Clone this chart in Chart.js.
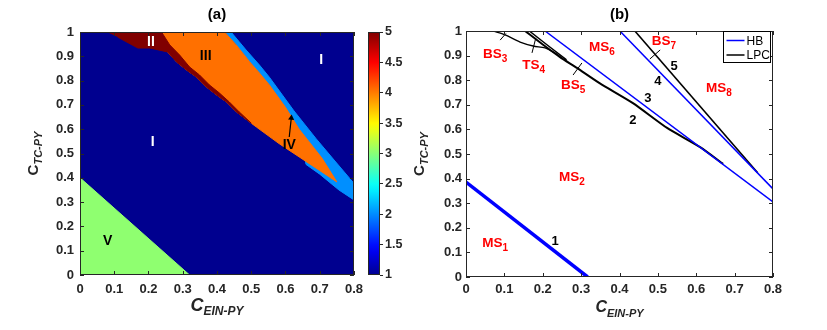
<!DOCTYPE html>
<html lang="en">
<head>
<meta charset="UTF-8">
<title>Regions (a) and bifurcation curves (b)</title>
<script src="https://cdn.jsdelivr.net/npm/chart.js@4"></script>
<style>
  body { margin: 0; background: #fff; width: 827px; height: 330px; overflow: hidden; position: relative; }
  canvas { position: absolute; top: 0; }
  #chartA { left: 0; }
  #chartCb { left: 360px; }
  #chartB { left: 400px; }
</style>
</head>
<body>
<canvas id="chartA" width="370" height="330"></canvas>
<canvas id="chartCb" width="50" height="330"></canvas>
<canvas id="chartB" width="427" height="330"></canvas>
<script>
// axis ticks
const xTicks = [0, 0.1, 0.2, 0.3, 0.4, 0.5, 0.6, 0.7, 0.8];
const yTicks = [0, 0.1, 0.2, 0.3, 0.4, 0.5, 0.6, 0.7, 0.8, 0.9, 1];
const cbTicks = [1, 1.5, 2, 2.5, 3, 3.5, 4, 4.5, 5];

// panel (a): region outlines, points are [C_EIN-PY, C_TC-PY]
const regionI = [[0, 0], [0.8, 0], [0.8, 1], [0, 1]];
const regionII = [[0.078, 1], [0.238, 1], [0.262, 0.947], [0.291, 0.905], [0.32, 0.856], [0.349, 0.823], [0.378, 0.782],
  [0.407, 0.749], [0.436, 0.712], [0.465, 0.671], [0.5, 0.625], [0.457, 0.671], [0.428, 0.712], [0.399, 0.741], [0.369, 0.774],
  [0.34, 0.815], [0.311, 0.844], [0.282, 0.877], [0.256, 0.918], [0.204, 0.934], [0.169, 0.934], [0.11, 0.979]];
const regionIII = [[0.238, 1], [0.422, 1], [0.456, 0.947], [0.495, 0.878], [0.524, 0.831], [0.553, 0.782], [0.6, 0.69], [0.64, 0.6],
  [0.707, 0.48], [0.75, 0.383], [0.70, 0.43], [0.64, 0.486], [0.582, 0.54], [0.515, 0.609], [0.5, 0.625], [0.457, 0.671],
  [0.428, 0.712], [0.399, 0.741], [0.369, 0.774], [0.34, 0.815], [0.311, 0.844], [0.282, 0.877], [0.256, 0.918]];
const regionIV = [[0.422, 1], [0.441, 1], [0.485, 0.926], [0.524, 0.864], [0.553, 0.814], [0.625, 0.675], [0.69, 0.56], [0.742, 0.473],
  [0.8, 0.377], [0.8, 0.309], [0.756, 0.35], [0.70, 0.415], [0.66, 0.455], [0.64, 0.6], [0.553, 0.782], [0.495, 0.878], [0.456, 0.947]];
const regionV = [[0, 0], [0, 0.4], [0.32, 0]];
// colour index of each region (colorbar 1..5)
const regionValue = { I: 1, II: 5, III: 4, IV: 2, V: 3 };
const arrowIV = [[0.611, 0.568], [0.617, 0.646]];

// panel (b): bifurcation curves
const hb1 = [[0, 0.386], [0.317, 0]];
const hb3 = [[0.206, 1], [0.8, 0.305]];
const hb4 = [[0.401, 1], [0.8, 0.358]];
const lpc2 = [[0.154, 1], [0.2, 0.945], [0.245, 0.894], [0.289, 0.85], [0.349, 0.787], [0.435, 0.707], [0.524, 0.606], [0.61, 0.528], [0.67, 0.46]];
const lpc5 = [[0.44, 1], [0.76, 0.424]];
const bs3 = [[0.07, 1], [0.102, 0.984], [0.141, 0.955], [0.175, 0.939], [0.206, 0.931], [0.227, 0.915], [0.25, 0.89]];
const ts4 = [[0.165, 1], [0.21, 0.945], [0.262, 0.883]];
const ptrBS3 = [[0.089, 0.963], [0.104, 0.99]];
const ptrTS4 = [[0.172, 0.911], [0.182, 0.972]];
const ptrBS5 = [[0.279, 0.821], [0.302, 0.870]];
const ptrBS7 = [[0.479, 0.886], [0.506, 0.923]];
const legendNames = ['HB', 'LPC'];

// text annotations
const labelsA = [
  { x: 0.212, y: 0.547, t: 'I', c: '#ffffff' },
  { x: 0.704, y: 0.885, t: 'I', c: '#ffffff' },
  { x: 0.207, y: 0.959, t: 'II', c: '#ffffff' },
  { x: 0.367, y: 0.901, t: 'III', c: '#000000' },
  { x: 0.611, y: 0.535, t: 'IV', c: '#000000' },
  { x: 0.081, y: 0.14, t: 'V', c: '#000000' }
];
const labelsB = [
  { x: 0.076, y: 0.907, t: 'BS', s: '3' },
  { x: 0.176, y: 0.862, t: 'TS', s: '4' },
  { x: 0.279, y: 0.78, t: 'BS', s: '5' },
  { x: 0.354, y: 0.935, t: 'MS', s: '6' },
  { x: 0.516, y: 0.96, t: 'BS', s: '7' },
  { x: 0.659, y: 0.768, t: 'MS', s: '8' },
  { x: 0.276, y: 0.406, t: 'MS', s: '2' },
  { x: 0.076, y: 0.138, t: 'MS', s: '1' }
];
const curveNumbers = [
  { x: 0.232, y: 0.146, t: '1' },
  { x: 0.435, y: 0.638, t: '2' },
  { x: 0.474, y: 0.724, t: '3' },
  { x: 0.5, y: 0.797, t: '4' },
  { x: 0.542, y: 0.854, t: '5' }
];

const FONT = '"Liberation Sans", Arial, sans-serif';
const TICK_COLOR = '#262626';

function pts(arr) { return arr.map(p => ({ x: p[0], y: p[1] })); }

// 64-step jet colormap as in MATLAB, t in [0,1]
function jetS(s) {
  const c = v => Math.round(255 * Math.max(0, Math.min(1, v)));
  return 'rgb(' + c(1.5 - Math.abs(4 * s - 3)) + ',' + c(1.5 - Math.abs(4 * s - 2)) + ',' + c(1.5 - Math.abs(4 * s - 1)) + ')';
}
function jet(t) { return jetS((Math.min(63, Math.floor(t * 64)) + 1) / 64); }
function regionColor(name) { return jet((regionValue[name] - 1) / 4); }

function drawText(ctx, x, y, main, sub, o) {
  ctx.save();
  ctx.translate(x, y);
  if (o.rotate) ctx.rotate(-Math.PI / 2);
  ctx.fillStyle = o.color;
  ctx.textBaseline = 'middle';
  ctx.textAlign = 'left';
  ctx.font = o.mainFont;
  const wm = ctx.measureText(main).width;
  let ws = 0;
  if (sub) { ctx.font = o.subFont; ws = ctx.measureText(sub).width; }
  const x0 = -(wm + ws) / 2;
  ctx.font = o.mainFont;
  ctx.fillText(main, x0, 0);
  if (sub) { ctx.font = o.subFont; ctx.fillText(sub, x0 + wm, o.subDy); }
  ctx.restore();
}

// box round the plot and inward ticks on all four sides
const framePlugin = {
  id: 'frame',
  afterDatasetsDraw(chart) {
    const { ctx, chartArea: a, scales } = chart;
    const L = 4;
    ctx.save();
    ctx.strokeStyle = TICK_COLOR;
    ctx.lineWidth = 1;
    ctx.beginPath();
    scales.x.ticks.forEach(t => {
      const px = Math.round(scales.x.getPixelForValue(t.value)) + 0.5;
      ctx.moveTo(px, a.bottom); ctx.lineTo(px, a.bottom - L);
      ctx.moveTo(px, a.top); ctx.lineTo(px, a.top + L);
    });
    scales.y.ticks.forEach(t => {
      const py = Math.round(scales.y.getPixelForValue(t.value)) + 0.5;
      ctx.moveTo(a.left, py); ctx.lineTo(a.left + L, py);
      ctx.moveTo(a.right, py); ctx.lineTo(a.right - L, py);
    });
    ctx.stroke();
    ctx.strokeRect(Math.round(a.left) + 0.5, Math.round(a.top) + 0.5, Math.round(a.width) - 1, Math.round(a.height) - 1);
    ctx.restore();
  }
};

function titlesPlugin(panel, xSize, ySize) {
  return {
    id: 'titles' + panel,
    afterDraw(chart) {
      const { ctx, chartArea: a } = chart;
      const cx = (a.left + a.right) / 2, cy = (a.top + a.bottom) / 2;
      drawText(ctx, cx, 15, '(' + panel + ')', '', { color: '#000', mainFont: 'bold 15px ' + FONT });
      drawText(ctx, cx, a.bottom + 31, 'C', 'EIN-PY', {
        color: TICK_COLOR, mainFont: 'bold italic ' + xSize[0] + 'px ' + FONT, subFont: 'bold italic ' + xSize[1] + 'px ' + FONT, subDy: 6
      });
      drawText(ctx, a.left - 46, cy, 'C', 'TC-PY', {
        rotate: true, color: TICK_COLOR, mainFont: 'bold ' + ySize[0] + 'px ' + FONT, subFont: 'bold italic ' + ySize[1] + 'px ' + FONT, subDy: 5
      });
    }
  };
}

function axes(yWidth, xHeight, xPad, yPad) {
  const tickFont = { family: FONT, size: 13, weight: 'bold' };
  const fmt = v => String(+(+v).toFixed(2));
  return {
    x: {
      type: 'linear', min: 0, max: 0.8,
      afterBuildTicks: s => { s.ticks = xTicks.map(v => ({ value: v })); },
      afterFit: s => { s.height = xHeight; },
      grid: { display: false, drawTicks: false },
      border: { display: false },
      ticks: { padding: xPad, font: tickFont, color: TICK_COLOR, maxRotation: 0, callback: fmt }
    },
    y: {
      type: 'linear', min: 0, max: 1,
      afterBuildTicks: s => { s.ticks = yTicks.map(v => ({ value: v })); },
      afterFit: s => { s.width = yWidth; },
      grid: { display: false, drawTicks: false },
      border: { display: false },
      ticks: { padding: yPad, font: tickFont, color: TICK_COLOR, callback: fmt }
    }
  };
}

function polygon(label, arr) {
  const col = regionColor(label);
  return { label: label, data: pts(arr), showLine: true, fill: 'shape', backgroundColor: col, borderColor: col, borderWidth: 1, pointRadius: 0 };
}
function curve(label, arr, color, width, tension) {
  return { label: label, data: pts(arr), showLine: true, fill: false, borderColor: color, borderWidth: width, pointRadius: 0, tension: tension || 0 };
}

// ---------- panel (a) ----------
const labelsPluginA = {
  id: 'labelsA',
  afterDatasetsDraw(chart) {
    const { ctx, scales: { x, y } } = chart;
    labelsA.forEach(l => drawText(ctx, x.getPixelForValue(l.x), y.getPixelForValue(l.y), l.t, '', { color: l.c, mainFont: 'bold 14px ' + FONT }));
  }
};

new Chart(document.getElementById('chartA'), {
  type: 'scatter',
  data: {
    datasets: [
      curve('arrow', arrowIV, '#000', 1.2),
      { label: 'arrowhead', data: pts(arrowIV.slice(1)), showLine: false, pointStyle: 'triangle', pointRadius: 3.5, pointRotation: 6, backgroundColor: '#000', borderColor: '#000', borderWidth: 0 },
      polygon('II', regionII),
      polygon('III', regionIII),
      polygon('IV', regionIV),
      polygon('V', regionV),
      polygon('I', regionI)
    ]
  },
  options: {
    responsive: false, animation: false,
    layout: { padding: { left: 0, right: 15, top: 32, bottom: 0 } },
    plugins: { legend: { display: false }, tooltip: { enabled: false } },
    scales: axes(80, 55, 7, 6)
  },
  plugins: [framePlugin, labelsPluginA, titlesPlugin('a', [18, 12], [15, 11])]
});

// ---------- colorbar ----------
const colorbarPlugin = {
  id: 'colorbar',
  beforeDatasetsDraw(chart) {
    const { ctx, chartArea: a } = chart;
    const g = ctx.createLinearGradient(0, a.bottom, 0, a.top);
    for (let i = 0; i <= 32; i++) g.addColorStop(i / 32, jetS((i / 32 * 63 + 1) / 64));
    ctx.save();
    ctx.fillStyle = g;
    ctx.fillRect(a.left, a.top, a.width, a.height);
    ctx.strokeStyle = TICK_COLOR;
    ctx.lineWidth = 1;
    ctx.strokeRect(Math.round(a.left) + 0.5, Math.round(a.top) + 0.5, Math.round(a.width) - 1, Math.round(a.height) - 1);
    ctx.restore();
  }
};

new Chart(document.getElementById('chartCb'), {
  type: 'scatter',
  data: { datasets: [] },
  options: {
    responsive: false, animation: false,
    layout: { padding: { left: 8, right: 0, top: 32, bottom: 55 } },
    plugins: { legend: { display: false }, tooltip: { enabled: false } },
    scales: {
      x: { type: 'linear', display: false, min: 0, max: 1 },
      y: {
        type: 'linear', position: 'right', min: 1, max: 5,
        afterBuildTicks: s => { s.ticks = cbTicks.map(v => ({ value: v })); },
        afterFit: s => { s.width = 30; },
        grid: { display: true, drawOnChartArea: false, drawTicks: true, tickLength: 3, color: TICK_COLOR },
        border: { display: false },
        ticks: { padding: 2, font: { family: FONT, size: 12.5, weight: 'bold' }, color: TICK_COLOR, callback: v => String(+(+v).toFixed(1)) }
      }
    }
  },
  plugins: [colorbarPlugin]
});

// ---------- panel (b) ----------
const labelsPluginB = {
  id: 'labelsB',
  afterDatasetsDraw(chart) {
    const { ctx, chartArea: a, scales: { x, y } } = chart;
    labelsB.forEach(l => drawText(ctx, x.getPixelForValue(l.x), y.getPixelForValue(l.y), l.t, l.s, {
      color: '#ff0000', mainFont: 'bold 13.5px ' + FONT, subFont: 'bold 10px ' + FONT, subDy: 5
    }));
    curveNumbers.forEach(l => drawText(ctx, x.getPixelForValue(l.x), y.getPixelForValue(l.y), l.t, '', { color: '#000', mainFont: 'bold 13px ' + FONT }));

    // legend box in the top right corner
    const ds = chart.data.datasets;
    const colors = legendNames.map(n => ds.find(d => d.label === n).borderColor);
    const bx = Math.round(a.right) - 49.5, by = Math.round(a.top) + 0.5, bw = 47, bh = 31;
    ctx.save();
    ctx.fillStyle = '#fff';
    ctx.fillRect(bx, by, bw, bh);
    ctx.strokeStyle = '#000';
    ctx.lineWidth = 1;
    ctx.strokeRect(bx, by, bw, bh);
    ctx.font = '12px ' + FONT;
    ctx.textBaseline = 'middle';
    ctx.textAlign = 'left';
    legendNames.forEach((n, i) => {
      const ly = by + 9 + i * 14.5;
      ctx.strokeStyle = colors[i];
      ctx.lineWidth = 1.5;
      ctx.beginPath(); ctx.moveTo(bx + 3, ly); ctx.lineTo(bx + 21, ly); ctx.stroke();
      ctx.fillStyle = '#000';
      ctx.fillText(n, bx + 23, ly + 1);
    });
    ctx.restore();
  }
};

new Chart(document.getElementById('chartB'), {
  type: 'scatter',
  data: {
    datasets: [
      curve('HB', hb3, '#0000ff', 1.5),
      curve('HB4', hb4, '#0000ff', 1.5),
      curve('HB1', hb1, '#0000ff', 3.5),
      curve('LPC', lpc2, '#000000', 2, 0.2),
      curve('LPC5', lpc5, '#000000', 1.6),
      curve('BS3', bs3, '#000000', 1.3, 0.3),
      curve('TS4', ts4, '#000000', 1.5),
      curve('ptr3', ptrBS3, '#000000', 1),
      curve('ptr4', ptrTS4, '#000000', 1),
      curve('ptr5', ptrBS5, '#000000', 1),
      curve('ptr7', ptrBS7, '#000000', 1)
    ]
  },
  options: {
    responsive: false, animation: false,
    layout: { padding: { left: 0, right: 54, top: 31, bottom: 0 } },
    plugins: { legend: { display: false }, tooltip: { enabled: false } },
    scales: axes(66, 53, 5, 4)
  },
  plugins: [framePlugin, labelsPluginB, titlesPlugin('b', [16, 11], [15, 11])]
});
</script>
</body>
</html>
